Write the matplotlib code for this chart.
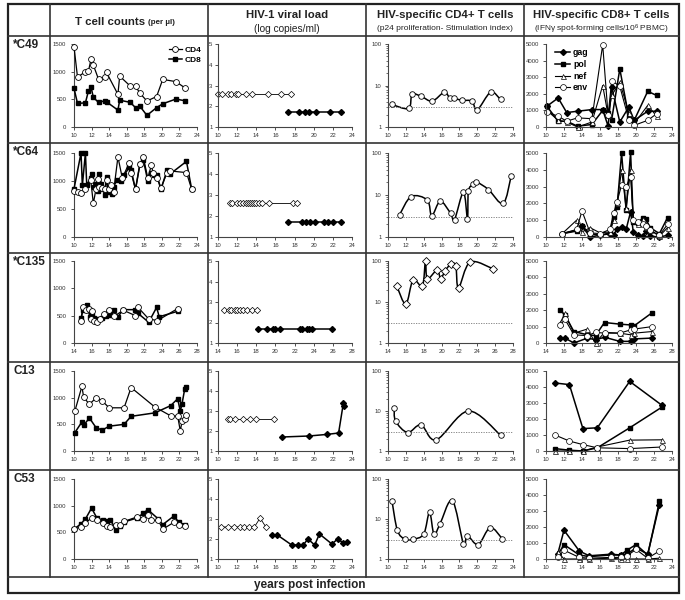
import numpy as np
import matplotlib.pyplot as plt
from matplotlib.path import Path
from matplotlib.patches import PathPatch
from matplotlib.lines import Line2D

plt.rcParams['font.family'] = ['Liberation Sans', 'DejaVu Sans']
plt.rcParams['mathtext.fontset'] = 'custom'
plt.rcParams['mathtext.rm'] = 'Liberation Sans'
plt.rcParams['mathtext.default'] = 'regular'

W, H = 685, 600

# ---------------- data ----------------
patients = ["*C49", "*C64", "*C135", "C13", "C53"]
col_titles = ["HIV-1 viral load", "HIV-specific CD4+ T cells", "HIV-specific CD8+ T cells"]
col_subtitles = ["(log copies/ml)", "(p24 proliferation- Stimulation index)",
                 "(IFN\u03b3 spot-forming cells/10$^6$ PBMC)"]
x_ranges = [(10, 24), (10, 24), (14, 28), (10, 24), (10, 24)]

# T cell counts (per ul)
c49_t_yr = [10.0, 10.4, 11.3, 11.65, 11.95, 12.2, 12.8, 13.5, 13.7, 15.0, 15.2,
            16.4, 17.0, 17.5, 18.3, 19.4, 20.1, 21.6, 22.6]
c49_cd4 = [1450, 900, 1000, 1015, 1230, 1120, 860, 900, 985, 590, 920,
           740, 740, 610, 470, 550, 860, 820, 710]
c49_cd8 = [700, 425, 437, 655, 715, 535, 443, 475, 455, 305, 485,
           445, 350, 375, 210, 350, 420, 505, 475]

c64_cd4_yr = [10.0, 10.5, 10.8, 11.2, 11.9, 12.2, 12.5, 12.7, 12.9, 13.2, 13.5, 13.7,
              14.0, 14.2, 14.5, 15.0, 15.5, 16.3, 16.5, 17.0, 17.5, 17.9, 18.4, 18.8,
              19.0, 19.5, 19.9, 20.6, 20.9, 22.8, 23.4]
c64_cd4 = [820, 800, 780, 860, 1020, 600, 850, 1030, 900, 880, 850, 1020,
           850, 930, 800, 1430, 1050, 1330, 1150, 850, 1300, 1420, 1050, 1280,
           1150, 1050, 880, 1150, 1180, 1150, 850]
c64_cd8_yr = [10.0, 10.8, 10.95, 11.3, 11.45, 11.9, 12.1, 12.3, 12.5, 12.7, 12.9, 13.1,
              13.3, 13.5, 13.7, 13.9, 14.1, 14.3, 14.5, 14.9, 15.3, 15.7, 16.3, 16.5,
              17.0, 17.5, 17.9, 18.4, 18.8, 19.1, 19.4, 19.9, 20.6, 20.9, 22.8, 23.4]
c64_cd8 = [860, 1500, 920, 1500, 930, 1050, 1120, 900, 950, 820, 1120, 950,
           850, 750, 1070, 800, 850, 760, 900, 1020, 1000, 1100, 1250, 1200,
           850, 1300, 1370, 1000, 1150, 1100, 1100, 850, 1200, 1120, 1350, 850]

c135_cd4_yr = [14.8, 15.0, 15.4, 15.7, 15.9, 16.0, 16.3, 16.6, 17.0, 17.4, 18.0,
               18.6, 19.6, 21.0, 21.3, 22.5, 23.5, 25.8]
c135_cd4 = [400, 650, 600, 620, 430, 580, 400, 390, 430, 530, 610,
            490, 600, 500, 650, 440, 410, 630]
c135_cd8_yr = [14.8, 15.0, 15.5, 15.8, 16.1, 16.3, 16.7, 17.2, 17.6, 18.1, 18.5,
               19.0, 19.6, 20.9, 21.3, 22.5, 23.4, 23.7, 25.8]
c135_cd8 = [450, 600, 690, 480, 520, 450, 430, 450, 500, 520, 600,
            480, 610, 610, 540, 380, 650, 480, 580]

c13_t_yr = [10.1, 10.9, 11.1, 11.75, 12.5, 13.2, 14.0, 15.7, 16.5, 19.2, 21.0,
            21.8, 22.1, 22.3, 22.6, 22.8]
c13_cd4 = [750, 1210, 1010, 875, 995, 940, 810, 810, 1190, 825, 660,
           655, 375, 560, 605, 670]
c13_cd8 = [345, 545, 480, 620, 440, 390, 465, 500, 650, 715, 850,
           980, 745, 890, 1160, 1200]

c53_cd4_yr = [10.0, 10.8, 11.3, 12.0, 12.6, 13.3, 13.7, 14.1, 14.8, 15.2, 15.7,
              17.2, 17.9, 18.4, 18.8, 19.6, 20.1, 21.4, 21.9, 22.6]
c53_cd4 = [560, 600, 675, 770, 735, 675, 610, 600, 640, 640, 705,
           790, 750, 820, 725, 725, 560, 690, 640, 625]
c53_cd8_yr = [10.0, 10.8, 11.3, 12.0, 12.6, 13.3, 13.8, 14.1, 14.8, 15.2, 15.7,
              17.2, 17.9, 18.4, 19.6, 20.1, 21.4, 21.9, 22.6]
c53_cd8 = [560, 660, 750, 955, 770, 725, 705, 740, 550, 625, 695,
           770, 860, 925, 750, 645, 810, 690, 645]

# HIV-1 viral load (log copies/ml): open = detectable limit, filled = below
c49_vl_open_yr = [10.0, 10.4, 11.05, 11.4, 11.9, 12.1, 12.9, 13.6, 15.2, 16.6, 17.6]
c49_vl_open = [2.6] * 11
c49_vl_fill_yr = [17.3, 18.5, 19.05, 19.5, 20.2, 21.75, 22.9]
c49_vl_fill = [1.7] * 7

c64_vl_open_yr = [11.3, 11.5, 12.0, 12.3, 12.6, 12.9, 13.1, 13.3, 13.6, 13.8,
                  14.0, 14.3, 14.6, 15.3, 17.8, 18.3]
c64_vl_open = [2.6] * 16
c64_vl_fill_yr = [17.3, 18.8, 19.2, 19.6, 20.1, 21.1, 21.5, 22.0, 22.9]
c64_vl_fill = [1.7] * 9

c135_vl_open_yr = [14.6, 15.1, 15.4, 15.8, 16.0, 16.3, 16.6, 17.0, 17.5, 18.1]
c135_vl_open = [2.6] * 10
c135_vl_fill_yr = [18.2, 19.1, 19.7, 20.0, 20.5, 22.6, 22.8, 23.3, 23.5, 23.8, 25.9]
c135_vl_fill = [1.7] * 11

c13_vl_open_yr = [11.05, 11.3, 11.8, 12.6, 13.3, 14.0, 15.9]
c13_vl_open = [2.6] * 7
c13_vl_fill_yr = [16.7, 19.5, 21.4, 22.6, 23.1, 23.2]
c13_vl_fill = [1.7, 1.75, 1.83, 1.9, 3.4, 3.25]

c53_vl_open_yr = [10.3, 11.0, 11.7, 12.3, 12.7, 13.2, 13.8, 14.4, 15.0]
c53_vl_open = [2.6, 2.6, 2.6, 2.6, 2.6, 2.6, 2.6, 3.05, 2.6]
c53_vl_fill_yr = [15.6, 16.2, 17.7, 18.4, 18.9, 19.4, 20.1, 20.6, 21.9, 22.5, 23.1, 23.5]
c53_vl_fill = [2.2, 2.2, 1.7, 1.7, 1.7, 2.0, 1.7, 2.25, 1.75, 2.0, 1.8, 1.85]

# HIV-specific CD4+ (stimulation index)
c49_si_yr = [10.4, 12.3, 12.7, 13.7, 14.95, 16.3, 16.9, 17.4, 18.3, 19.4, 20.0, 21.5, 22.6]
c49_si = [3.5, 2.8, 6.1, 5.5, 4.2, 6.9, 5.1, 4.9, 4.4, 4.2, 2.6, 6.9, 4.6]
c64_si_yr = [11.3, 12.6, 14.4, 14.9, 15.85, 17.0, 17.45, 18.45, 18.9, 19.0, 19.5,
             19.9, 21.25, 22.9, 23.8]
c64_si = [3.4, 9.2, 7.6, 3.2, 7.1, 3.7, 2.6, 11.7, 2.7, 12.2, 18, 20.5, 13.5, 6.3, 28.7]
c135_si_yr = [15.0, 16.0, 16.8, 17.85, 18.2, 18.4, 19.5, 19.9, 20.4, 21.1, 21.6, 21.9, 23.2, 25.8]
c135_si = [24, 8.9, 34, 25, 100, 37, 60, 37, 58, 86, 75, 22, 94, 64]
c13_si_yr = [10.7, 10.85, 12.2, 13.7, 15.4, 19.0, 22.6]
c13_si = [12, 5.6, 2.9, 4.5, 1.9, 10, 2.5]
c53_si_yr = [10.45, 11.05, 11.9, 12.8, 14.0, 14.65, 15.15, 15.8, 17.2, 18.45, 18.9,
             20.1, 21.45, 22.8]
c53_si = [28, 5.2, 3.1, 3.1, 4.2, 14.6, 4.1, 7.3, 29, 2.4, 3.8, 2.3, 6.1, 3.2]
si_cutoff = 3

# HIV-specific CD8+ (IFN-g SFC / 10^6 PBMC)
c49_ifn_yr = [10.1, 11.35, 12.3, 13.5, 15.1, 16.3, 16.9, 17.3, 18.2, 19.2, 19.8, 21.3, 22.3]
c49_gag = [1250, 1750, 870, 950, 1050, 1050, 50, 2400, 300, 1200, 400, 950, 950]
c49_pol = [1250, 350, 350, 50, 150, 1000, 850, 450, 3500, 600, 400, 2150, 1900]
c49_nef = [1000, 400, 300, 0, 300, 2500, 700, 1900, 2700, 850, 200, 1300, 650]
c49_env = [900, 650, 350, 550, 500, 4950, 700, 2800, 2450, 450, 100, 400, 800]

c64_ifn_yr = [11.8, 13.4, 14.0, 14.9, 16.0, 17.1, 17.5, 17.9, 18.4, 18.9, 19.4, 19.7,
              20.2, 20.8, 21.1, 21.6, 22.6, 23.5]
c64_gag = [200, 400, 650, 0, 100, 200, 100, 500, 600, 450, 1500, 300, 100, 50, 350, 50, 0, 100]
c64_pol = [200, 350, 650, 200, 100, 250, 1200, 1800, 5000, 1600, 5050, 900, 850, 1150,
           1050, 550, 200, 1150]
c64_nef = [200, 1000, 300, 550, 250, 300, 1000, 2000, 4000, 1700, 4000, 1000, 800, 1100,
           600, 400, 50, 550]
c64_env = [200, 450, 1550, 250, 200, 450, 1400, 2100, 3100, 3000, 3600, 1000, 900, 750,
           650, 400, 100, 750]

c135_ifn_yr = [15.6, 16.1, 17.1, 18.6, 19.5, 20.5, 22.2, 23.4, 23.8, 25.8]
c135_gag = [300, 300, 0, 300, 200, 350, 100, 100, 250, 300]
c135_pol = [2000, 1700, 700, 500, 450, 1250, 1150, 1100, 1050, 1850]
c135_nef = [1250, 1800, 600, 850, 0, 650, 600, 500, 600, 700]
c135_env = [1100, 1450, 500, 450, 650, 600, 600, 800, 850, 1000]

c13_ifn_yr = [11.0, 12.6, 14.1, 15.7, 19.3, 22.9]
c13_gag = [4250, 4150, 1400, 1450, 4350, 2850]
c13_pol = [150, 50, 0, 200, 1450, 2750]
c13_nef = [0, 0, 0, 250, 680, 700]
c13_env = [1000, 620, 400, 200, 150, 250]

c53_ifn_yr = [11.3, 12.0, 13.7, 14.8, 17.2, 18.3, 19.0, 20.0, 21.3, 22.6]
c53_gag = [300, 1800, 500, 200, 300, 250, 300, 700, 300, 3400]
c53_pol = [250, 900, 250, 150, 250, 250, 550, 900, 250, 3600]
c53_nef = [450, 0, 0, 0, 50, 0, 0, 0, 0, 50]
c53_env = [100, 550, 100, 50, 100, 100, 200, 600, 50, 500]

tcells = [
    ((c49_t_yr, c49_cd4), (c49_t_yr, c49_cd8)),
    ((c64_cd4_yr, c64_cd4), (c64_cd8_yr, c64_cd8)),
    ((c135_cd4_yr, c135_cd4), (c135_cd8_yr, c135_cd8)),
    ((c13_t_yr, c13_cd4), (c13_t_yr, c13_cd8)),
    ((c53_cd4_yr, c53_cd4), (c53_cd8_yr, c53_cd8)),
]
viral = [
    (c49_vl_open_yr, c49_vl_open, c49_vl_fill_yr, c49_vl_fill),
    (c64_vl_open_yr, c64_vl_open, c64_vl_fill_yr, c64_vl_fill),
    (c135_vl_open_yr, c135_vl_open, c135_vl_fill_yr, c135_vl_fill),
    (c13_vl_open_yr, c13_vl_open, c13_vl_fill_yr, c13_vl_fill),
    (c53_vl_open_yr, c53_vl_open, c53_vl_fill_yr, c53_vl_fill),
]
stim = [(c49_si_yr, c49_si), (c64_si_yr, c64_si), (c135_si_yr, c135_si),
        (c13_si_yr, c13_si), (c53_si_yr, c53_si)]
ifn = [
    (c49_ifn_yr, c49_gag, c49_pol, c49_nef, c49_env),
    (c64_ifn_yr, c64_gag, c64_pol, c64_nef, c64_env),
    (c135_ifn_yr, c135_gag, c135_pol, c135_nef, c135_env),
    (c13_ifn_yr, c13_gag, c13_pol, c13_nef, c13_env),
    (c53_ifn_yr, c53_gag, c53_pol, c53_nef, c53_env),
]

# ---------------- layout (pixels) ----------------
ROW_Y = [(44, 127), (153, 237), (261, 343), (371, 451), (479, 559)]
COL_X = [(74, 197), (218, 352), (388, 513), (546, 672)]
Y_PAD = [3.5, 2.0, 2.5, 3.0]
ROW_LINES = [36, 143, 253, 362, 470, 577]
COL_LINES = [50, 208, 366, 524]
LEFT, RIGHT, TOP, BOTTOM = 8, 679, 4, 593
INK = "#222222"


def fx(x):
    return x / W


def fy(y):
    return 1 - y / H


def make_ax(fig, col, row):
    x0, x1 = COL_X[col]
    y0, y1 = ROW_Y[row]
    ax = fig.add_axes([fx(x0), fy(y1), (x1 - x0) / W, (y1 - y0) / H])
    ax.patch.set_alpha(0)
    for s in ("top", "right"):
        ax.spines[s].set_visible(False)
    for s in ("left", "bottom"):
        ax.spines[s].set_color("#444444")
        ax.spines[s].set_linewidth(0.8)
    ax.tick_params(labelsize=4.3, length=2, width=0.6, pad=2.5,
                   colors="#333333", labelcolor="#333333")
    ax.tick_params(axis="y", pad=Y_PAD[col])
    lo, hi = x_ranges[row]
    ax.set_xlim(lo, hi)
    ax.set_xticks(range(lo, hi + 1, 2))
    return ax


def smooth_line(ax, x, y, **kw):
    # Excel-style smoothed line: cubic Bezier through the points (in log space)
    pts = np.column_stack([np.asarray(x, float), np.log10(np.asarray(y, float))])
    n = len(pts)
    verts, codes = [pts[0]], [Path.MOVETO]
    for i in range(n - 1):
        p0, p1 = pts[max(i - 1, 0)], pts[i]
        p2, p3 = pts[i + 1], pts[min(i + 2, n - 1)]
        verts += [p1 + (p2 - p0) / 6, p2 - (p3 - p1) / 6, p2]
        codes += [Path.CURVE4] * 3
    verts = np.array(verts)
    verts[:, 1] = 10 ** verts[:, 1]
    ax.add_patch(PathPatch(Path(verts, codes), fill=False, **kw))


fig = plt.figure(figsize=(W / 100, H / 100), dpi=100)

# table grid
for y in ROW_LINES:
    fig.add_artist(Line2D([fx(LEFT), fx(RIGHT)], [fy(y), fy(y)], color="#333333", lw=1.2))
for x in COL_LINES:
    fig.add_artist(Line2D([fx(x), fx(x)], [fy(TOP), fy(ROW_LINES[-1])], color="#333333", lw=1.2))
fig.add_artist(plt.Rectangle((fx(LEFT), fy(BOTTOM)), (RIGHT - LEFT) / W, (BOTTOM - TOP) / H,
                             transform=fig.transFigure, fill=False, ec="#222222", lw=1.6))

# headers
fig.text(fx(145), fy(22), "T cell counts", ha="right", va="center",
         fontsize=8.2, fontweight="bold", color=INK)
fig.text(fx(148), fy(23), "(per \u00b5l)", ha="left", va="center",
         fontsize=5.8, fontweight="bold", color=INK)
for k, (t, s) in enumerate(zip(col_titles, col_subtitles)):
    cx = (COL_LINES[k + 1] + (COL_LINES[k + 2] if k + 2 < len(COL_LINES) else RIGHT)) / 2
    fig.text(fx(cx), fy(15), t, ha="center", va="center", fontsize=8.2,
             fontweight="bold", color=INK)
    fig.text(fx(cx), fy(29), s, ha="center", va="center",
             fontsize=7.3 if k == 0 else 6.0, color=INK)

fig.text(fx(310), fy(585), "years post infection", ha="center", va="center",
         fontsize=8.5, fontweight="bold", color=INK)

for r, name in enumerate(patients):
    fig.text(fx(13), fy(ROW_LINES[r] + 9), name, ha="left", va="center",
             fontsize=8.5, fontweight="bold", color=INK)

    # --- T cell counts ---
    ax = make_ax(fig, 0, r)
    (x4, y4), (x8, y8) = tcells[r]
    ax.plot(x8, y8, color="black", lw=1.1, marker="s", ms=3.0, mfc="black",
            mec="black", clip_on=False, label="CD8", zorder=3)
    ax.plot(x4, y4, color="black", lw=0.9, marker="o", ms=4.2, mfc="white",
            mec="black", mew=0.6, clip_on=False, label="CD4", zorder=4)
    ax.set_ylim(0, 1500)
    ax.set_yticks([0, 500, 1000, 1500])
    if r == 0:
        h, l = ax.get_legend_handles_labels()
        ax.legend(h[::-1], l[::-1], loc="upper right", bbox_to_anchor=(1.07, 1.03),
                  frameon=False, handlelength=1.6, handletextpad=0.3,
                  labelspacing=0.35, borderpad=0, prop={"size": 6, "weight": "bold"})

    # --- viral load ---
    ax = make_ax(fig, 1, r)
    ox, oy, fxs, fys = viral[r]
    ax.plot(ox, oy, color="black", lw=0.6, marker="D", ms=3.2, mfc="white",
            mec="black", mew=0.5, clip_on=False)
    ax.plot(fxs, fys, color="black", lw=1.1, marker="D", ms=3.0, mfc="black",
            mec="black", clip_on=False)
    ax.set_ylim(1, 5)
    ax.set_yticks([1, 2, 3, 4, 5])

    # --- CD4 proliferation ---
    ax = make_ax(fig, 2, r)
    ax.set_yscale("log")
    sx, sy = stim[r]
    lo, hi = x_ranges[r]
    ax.plot([lo, hi], [si_cutoff, si_cutoff], color="#777777", lw=0.6, ls=(0, (1.5, 1.5)))
    smooth_line(ax, sx, sy, ec="black", lw=1.1, clip_on=False)
    ax.plot(sx, sy, ls="none", marker="D" if r == 2 else "o", ms=4.0, mfc="white",
            mec="black", mew=0.6, clip_on=False, zorder=4)
    ax.set_ylim(1, 100)
    ax.set_yticks([1, 10, 100])
    ax.set_yticklabels(["1", "10", "100"])
    ax.tick_params(which="minor", length=1.2, width=0.5, colors="#333333")
    ax.set_xlim(lo, hi)

    # --- CD8 IFN-g ---
    ax = make_ax(fig, 3, r)
    t, gag, pol, nef, env = ifn[r]
    ax.plot(t, gag, color="black", lw=1.1, marker="D", ms=3.0, mfc="black",
            mec="black", clip_on=False, label="gag")
    ax.plot(t, pol, color="black", lw=1.1, marker="s", ms=3.0, mfc="black",
            mec="black", clip_on=False, label="pol")
    ax.plot(t, nef, color="black", lw=0.8, marker="^", ms=3.6, mfc="white",
            mec="black", mew=0.5, clip_on=False, label="nef")
    ax.plot(t, env, color="black", lw=0.8, marker="o", ms=4.2, mfc="white",
            mec="black", mew=0.5, clip_on=False, label="env")
    ax.set_ylim(0, 5000)
    ax.set_yticks(range(0, 5001, 1000))
    if r == 0:
        ax.legend(loc="upper left", bbox_to_anchor=(0.04, 1.0), frameon=False,
                  handlelength=1.7, handletextpad=0.3, labelspacing=0.3, borderpad=0,
                  prop={"size": 6.3, "weight": "bold"})

fig.savefig("out.png", dpi=100)
